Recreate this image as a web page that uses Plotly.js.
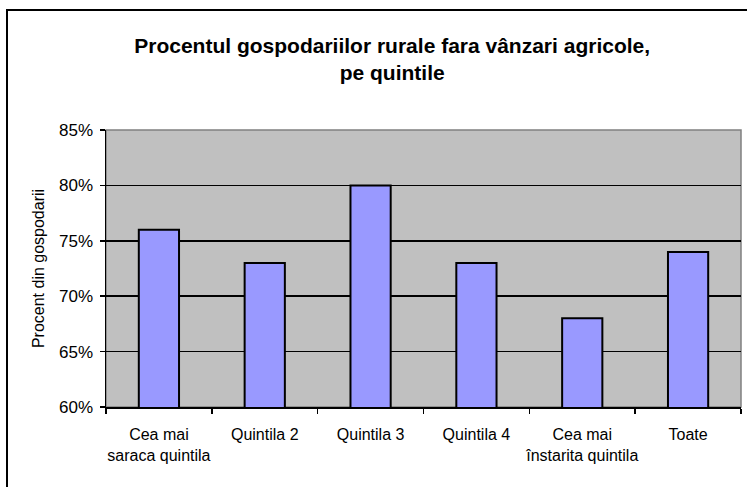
<!DOCTYPE html>
<html>
<head>
<meta charset="utf-8">
<script src="https://cdn.plot.ly/plotly-3.0.1.min.js"></script>
<style>
  html, body { margin: 0; padding: 0; background: #fff; overflow: hidden; }
  #frame { position: absolute; left: 6px; top: 9px; width: 760px; height: 500px; border: 2px solid #000; }
  #chart { position: absolute; left: 0; top: 0; width: 747px; height: 487px; }
</style>
</head>
<body>
<div id="frame"></div>
<div id="chart"></div>
<script>
const categories = ["Cea mai<br>saraca quintila", "Quintila 2", "Quintila 3", "Quintila 4", "Cea mai<br>înstarita quintila", "Toate"];
const shares = [0.76, 0.73, 0.80, 0.73, 0.68, 0.74];
const yTicks = [0.60, 0.65, 0.70, 0.75, 0.80, 0.85];

const font = "Liberation Sans, Arial, sans-serif";

const trace = {
  x: categories,
  y: shares,
  type: "bar",
  marker: { color: "#9999ff", line: { color: "#000", width: 2 } },
  hoverinfo: "skip"
};

const layout = {
  width: 747,
  height: 487,
  margin: { l: 106, r: 6, t: 130, b: 80 },
  paper_bgcolor: "rgba(0,0,0,0)",
  plot_bgcolor: "#c0c0c0",
  bargap: 0.62,
  showlegend: false,
  font: { family: font, size: 15, color: "#000" },
  title: {
    text: "<b>Procentul gospodariilor rurale fara vânzari agricole,<br>pe quintile</b>",
    font: { family: font, size: 21, color: "#000" },
    xref: "container", x: 0.525, xanchor: "center",
    yref: "container", y: 0.892, yanchor: "top"
  },
  xaxis: {
    type: "category",
    showline: true, linecolor: "#000", linewidth: 1.5,
    ticks: "outside", tickson: "boundaries", ticklen: 5, tickcolor: "#000", tickwidth: 1.5,
    tickangle: 0,
    ticklabelstandoff: 12,
    tickfont: { family: font, size: 16 },
    showgrid: false, zeroline: false
  },
  yaxis: {
    range: [0.60, 0.85],
    tickvals: yTicks,
    tickformat: ".0%",
    showline: true, linecolor: "#000", linewidth: 1.5,
    ticks: "outside", ticklen: 5, tickcolor: "#000", tickwidth: 1.5,
    ticklabelstandoff: 3,
    showgrid: true, gridcolor: "#000", gridwidth: 1.5,
    zeroline: false,
    tickfont: { family: font, size: 17 },
    title: { text: "Procent din gospodarii", font: { family: font, size: 16 }, standoff: 10 }
  },
  shapes: [{
    type: "rect", xref: "paper", yref: "paper", x0: 0, x1: 1, y0: 0, y1: 1,
    line: { color: "#808080", width: 1.5 }, layer: "below"
  }]
};

Plotly.newPlot("chart", [trace], layout, { displayModeBar: false, staticPlot: true });
</script>
</body>
</html>
